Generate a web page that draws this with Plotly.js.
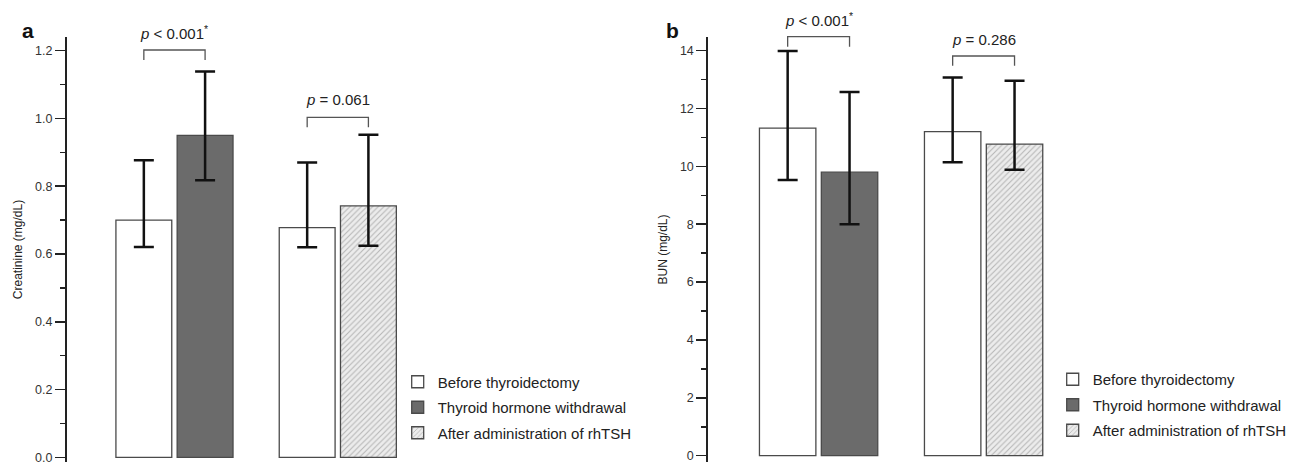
<!DOCTYPE html>
<html>
<head>
<meta charset="utf-8">
<script src="https://cdn.plot.ly/plotly-3.0.1.min.js"></script>
<style>html,body{margin:0;padding:0;background:#fff;}#chart{width:1293px;height:462px;}</style>
</head>
<body>
<div id="chart"></div>
<script>
// ---------- data ----------
const seriesNames = ['Before thyroidectomy', 'Thyroid hormone withdrawal', 'After administration of rhTSH'];
const groupPos = [0, 1];           // group 0: THW cohort, group 1: rhTSH cohort

// Panel a: Creatinine (mg/dL)
const creatBefore   = [0.70, 0.678];
const creatBeforeHi = [0.877, 0.870];
const creatBeforeLo = [0.621, 0.620];
const creatTHW      = [0.95];
const creatTHWHi    = [1.139];
const creatTHWLo    = [0.818];
const creatRh       = [0.742];
const creatRhHi     = [0.952];
const creatRhLo     = [0.624];

// Panel b: BUN (mg/dL)
const bunBefore   = [11.32, 11.20];
const bunBeforeHi = [13.99, 13.07];
const bunBeforeLo = [9.53, 10.14];
const bunTHW      = [9.80];
const bunTHWHi    = [12.57];
const bunTHWLo    = [8.00];
const bunRh       = [10.77];
const bunRhHi     = [12.96];
const bunRhLo     = [9.88];

const pLabelsA = ['<i>p</i> &lt; 0.001<sup>*</sup>', '<i>p</i> = 0.061'];
const pLabelsB = ['<i>p</i> &lt; 0.001<sup>*</sup>', '<i>p</i> = 0.286'];

// ---------- style ----------
const FONT = 'Liberation Sans, Arial, Helvetica, sans-serif';
const W = 0.342, G = 0.033;
const offL = -(W + G / 2), offR = G / 2;
const lineCol = '#4a4a4a';

function err(vals, hi, lo) {
  return {
    type: 'data', symmetric: false,
    array: vals.map((v, i) => hi[i] - v),
    arrayminus: vals.map((v, i) => v - lo[i]),
    color: '#111', thickness: 2.5, width: 10
  };
}
function bar(name, x, y, hi, lo, off, xa, ya, leg, grp, markerExtra) {
  return Object.assign({
    type: 'bar', name: name, x: x, y: y, offset: off, width: W,
    xaxis: xa, yaxis: ya, legend: leg, legendgroup: grp,
    error_y: err(y, hi, lo),
    marker: Object.assign({line: {color: lineCol, width: 1.3}}, markerExtra),
    hoverinfo: 'y'
  });
}
const whiteM = {color: '#ffffff'};
const darkM = {color: '#6b6b6b'};
const hatchM = {color: '#ececec', pattern: {shape: '/', fgcolor: '#b5b5b5', bgcolor: '#ececec', size: 4, solidity: 0.25}};

const thwX = [groupPos[0]], rhX = [groupPos[1]];

const traces = [
  bar(seriesNames[0], groupPos, creatBefore, creatBeforeHi, creatBeforeLo, offL, 'x', 'y', 'legend', 'a0', whiteM),
  bar(seriesNames[1], thwX, creatTHW, creatTHWHi, creatTHWLo, offR, 'x', 'y', 'legend', 'a1', darkM),
  bar(seriesNames[2], rhX, creatRh, creatRhHi, creatRhLo, offR, 'x', 'y', 'legend', 'a2', hatchM),
  bar(seriesNames[0], groupPos, bunBefore, bunBeforeHi, bunBeforeLo, offL, 'x2', 'y2', 'legend2', 'b0', whiteM),
  bar(seriesNames[1], thwX, bunTHW, bunTHWHi, bunTHWLo, offR, 'x2', 'y2', 'legend2', 'b1', darkM),
  bar(seriesNames[2], rhX, bunRh, bunRhHi, bunRhLo, offR, 'x2', 'y2', 'legend2', 'b2', hatchM)
];

const H = 462, WD = 1293;
const py = px => 1 - px / H;
const cL = -(W / 2 + G / 2), cR = W / 2 + G / 2;

function bracket(xref, g, topPx, legPx) {
  const x1 = groupPos[g] + cL, x2 = groupPos[g] + cR;
  return {
    type: 'path', xref: xref, yref: 'paper',
    path: `M${x1},${py(legPx)} L${x1},${py(topPx)} L${x2},${py(topPx)} L${x2},${py(legPx)}`,
    line: {color: '#555', width: 1.3}
  };
}
function pText(xref, g, txt, cyPx) {
  return {xref: xref, yref: 'paper', x: groupPos[g], y: py(cyPx), yanchor: 'middle', xanchor: 'center',
          text: txt, showarrow: false, font: {family: FONT, size: 15, color: '#222'}};
}

const yax = (range, dtick, minor, fmt) => ({
  domain: [0, py(37)], range: range, autorange: false,
  showline: true, linecolor: '#222', linewidth: 2,
  ticks: 'outside', ticklen: 10, tickwidth: 1.5, tickcolor: '#222',
  dtick: dtick, tick0: 0, tickformat: fmt, ticklabeloverflow: 'allow',
  tickfont: {family: FONT, size: 12.5, color: '#333'},
  minor: {dtick: minor, tick0: 0, ticks: 'outside', ticklen: 5, tickwidth: 1.5, tickcolor: '#222', showgrid: false},
  showgrid: false, zeroline: false, automargin: false, fixedrange: true
});

const layout = {
  width: WD, height: H,
  margin: {l: 0, r: 0, t: 0, b: 0},
  paper_bgcolor: '#ffffff', plot_bgcolor: 'rgba(0,0,0,0)',
  font: {family: FONT, color: '#222'},
  barmode: 'overlay',
  showlegend: true,
  xaxis: {domain: [67 / WD, 645 / WD], range: [-0.658, 2.881], visible: false, fixedrange: true},
  xaxis2: {domain: [708.3 / WD, 1290 / WD], range: [-0.6685, 2.857], visible: false, fixedrange: true},
  yaxis: Object.assign(yax([-0.0139, 1.2405], 0.2, 0.1, '.1f'),
    {anchor: 'x', title: {text: 'Creatinine (mg/dL)', font: {family: FONT, size: 12, color: '#222'}, standoff: 10}}),
  yaxis2: Object.assign(yax([-0.218, 14.47], 2, 1, 'd'),
    {anchor: 'x2', title: {text: 'BUN (mg/dL)', font: {family: FONT, size: 12, color: '#222'}, standoff: 10}}),
  legend: {x: 397.7 / WD, y: py(365.5), xanchor: 'left', yanchor: 'top', traceorder: 'grouped', tracegroupgap: 3,
           bgcolor: 'rgba(0,0,0,0)', borderwidth: 0, font: {family: FONT, size: 15, color: '#222'}},
  legend2: {x: 1052.7 / WD, y: py(363), xanchor: 'left', yanchor: 'top', traceorder: 'grouped', tracegroupgap: 3,
            bgcolor: 'rgba(0,0,0,0)', borderwidth: 0, font: {family: FONT, size: 15, color: '#222'}},
  shapes: [
    bracket('x', 0, 50, 60),
    bracket('x', 1, 117.3, 127.3),
    bracket('x2', 0, 36.7, 46.7),
    bracket('x2', 1, 56, 65.7)
  ],
  annotations: [
    pText('x', 0, pLabelsA[0], 33),
    pText('x', 1, pLabelsA[1], 99.3),
    pText('x2', 0, pLabelsB[0], 19.3),
    pText('x2', 1, pLabelsB[1], 40),
    {xref: 'paper', yref: 'paper', x: 28 / WD, y: py(30), xanchor: 'center', yanchor: 'middle', showarrow: false,
     text: '<b>a</b>', font: {family: FONT, size: 21, color: '#111'}},
    {xref: 'paper', yref: 'paper', x: 672 / WD, y: py(30), xanchor: 'center', yanchor: 'middle', showarrow: false,
     text: '<b>b</b>', font: {family: FONT, size: 21, color: '#111'}}
  ]
};

Plotly.newPlot('chart', traces, layout, {displayModeBar: false, staticPlot: true});
</script>
</body>
</html>
